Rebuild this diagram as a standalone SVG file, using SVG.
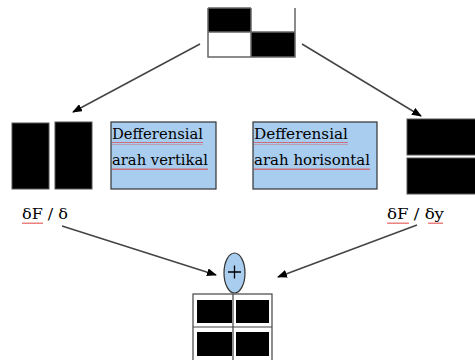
<svg xmlns="http://www.w3.org/2000/svg" width="475" height="360" viewBox="0 0 475 360">
<style>
.blk{fill:#000;stroke:#555;stroke-width:1}
.box{fill:#a9cdef;stroke:#333;stroke-width:1.2}
.txt{font-family:"DejaVu Serif","Liberation Serif",serif;font-size:15px;fill:#000}
.con{stroke:#444;stroke-width:1.5;fill:none;marker-end:url(#ah)}
.ln{stroke:#666;stroke-width:1.5;fill:none}
</style>
<defs>
<marker id="ah" markerWidth="10" markerHeight="8" refX="9" refY="4" orient="auto" markerUnits="userSpaceOnUse">
<path d="M0,0 L10,4 L0,8 Z" fill="#000"/>
</marker>
<pattern id="wv" width="4" height="3" patternUnits="userSpaceOnUse">
<path d="M0,2 L1,0.5 L2,2 L3,0.5 L4,2" fill="none" stroke="#e03030" stroke-width="0.7"/>
</pattern>
</defs>
<rect width="475" height="360" fill="#fff"/>
<g id="top">
<rect x="208" y="8" width="43" height="24" fill="#000"/>
<rect x="251" y="32" width="44" height="25" fill="#000"/>
<path class="ln" d="M208,8 H251 M208,8 V57 H295 V8 M208,32 H295 M251,8 V57"/>
</g>
<g id="left-pair">
<rect class="blk" x="12" y="123" width="37" height="66"/>
<rect class="blk" x="55" y="122" width="37" height="67"/>
<text class="txt" x="22" y="219" textLength="46" lengthAdjust="spacingAndGlyphs">δF / δ</text>
<rect x="22" y="221" width="21" height="3" fill="url(#wv)"/>
</g>
<g id="box-vertikal">
<rect class="box" x="111" y="122" width="105" height="67"/>
<text class="txt" x="112" y="139" textLength="91" lengthAdjust="spacingAndGlyphs">Defferensial</text>
<text class="txt" x="112" y="165" textLength="96" lengthAdjust="spacingAndGlyphs">arah vertikal</text>
<rect x="112" y="142" width="91" height="3" fill="url(#wv)"/>
<rect x="112" y="168" width="96" height="3" fill="url(#wv)"/>
</g>
<g id="box-horisontal">
<rect class="box" x="253" y="122" width="124" height="67"/>
<text class="txt" x="254" y="139" textLength="94" lengthAdjust="spacingAndGlyphs">Defferensial</text>
<text class="txt" x="254" y="165" textLength="116" lengthAdjust="spacingAndGlyphs">arah horisontal</text>
<rect x="254" y="142" width="94" height="3" fill="url(#wv)"/>
<rect x="254" y="168" width="116" height="3" fill="url(#wv)"/>
</g>
<g id="right-pair">
<rect class="blk" x="407" y="119" width="70" height="36"/>
<rect class="blk" x="407" y="158" width="70" height="36"/>
<text class="txt" x="387" y="219" textLength="57" lengthAdjust="spacingAndGlyphs">δF / δy</text>
<rect x="387" y="221" width="22" height="3" fill="url(#wv)"/>
<rect x="428" y="221" width="15" height="3" fill="url(#wv)"/>
</g>
<g id="plus">
<ellipse cx="234.5" cy="273" rx="10.5" ry="20" fill="#a9cdef" stroke="#333" stroke-width="1.2"/>
<path d="M228,272 H241 M234.5,265.5 V278.5" stroke="#000" stroke-width="1.3"/>
</g>
<g id="result">
<rect x="193" y="294" width="79" height="70" fill="#fff" stroke="#444" stroke-width="1.2"/>
<rect x="197" y="300" width="35" height="23" fill="#000"/>
<rect x="236" y="300" width="33" height="23" fill="#000"/>
<rect x="197" y="332" width="35" height="24" fill="#000"/>
<rect x="236" y="332" width="33" height="24" fill="#000"/>
<path d="M193,327 H272 M233,294 V360" stroke="#444" stroke-width="1.2" fill="none"/>
</g>
<g id="connectors">
<line class="con" x1="200" y1="44" x2="73" y2="112"/>
<line class="con" x1="302" y1="44" x2="421" y2="116"/>
<line class="con" x1="62" y1="226" x2="216" y2="275"/>
<line class="con" x1="417" y1="225" x2="278" y2="277"/>
</g>
</svg>
